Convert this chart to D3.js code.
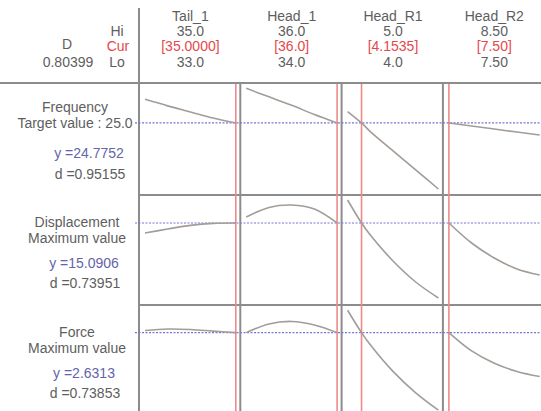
<!DOCTYPE html>
<html>
<head>
<meta charset="utf-8">
<script src="https://cdn.jsdelivr.net/npm/d3@7"></script>
<style>
  html, body { margin: 0; padding: 0; background: #ffffff; }
  svg { display: block; }
  text { font-family: "Liberation Sans", Arial, sans-serif; font-size: 14px; fill: #5e5e5e; }
</style>
</head>
<body>
<svg id="chart" width="541" height="411"></svg>
<script>
// ---- factors (columns) ----
const factorNames = ["Tail_1", "Head_1", "Head_R1", "Head_R2"];
const factorLo = [33.0, 34.0, 4.0, 7.5];
const factorHi = [35.0, 36.0, 5.0, 8.5];
const factorCur = [35.0, 36.0, 4.1535, 7.5];
const hiLabels = ["35.0", "36.0", "5.0", "8.50"];
const curLabels = ["[35.0000]", "[36.0]", "[4.1535]", "[7.50]"];
const loLabels = ["33.0", "34.0", "4.0", "7.50"];

// ---- responses (rows) ----
const responseNames = ["Frequency", "Displacement", "Force"];
const goalLabels = ["Target value : 25.0", "Maximum value", "Maximum value"];
const predictedY = [24.7752, 15.0906, 2.6313];
const yLabels = ["y =24.7752", "y =15.0906", "y =2.6313"];
const dLabels = ["d =0.95155", "d =0.73951", "d =0.73853"];
const compositeD = "0.80399";
const responseDomains = [[19.5, 27.6], [11.14, 16.34], [2.0, 2.82]];

// ---- factor settings at which each response trace is evaluated ----
const tail1X = [33.0, 33.5, 34.0, 34.5, 35.0];
const head1X = [34.0, 34.5, 35.0, 35.5, 36.0];
const headR1X = [4.0, 4.1535, 4.25, 4.5, 4.75, 5.0];
const headR2X = [7.5, 7.75, 8.0, 8.25, 8.5];
const factorX = [tail1X, head1X, headR1X, headR2X];

// Frequency traces
const freqTail1 = [26.58, 26.08, 25.62, 25.15, 24.7752];
const freqHead1 = [27.42, 26.77, 26.12, 25.42, 24.7752];
const freqHeadR1 = [25.65, 24.7752, 24.12, 22.65, 21.19, 19.73];
const freqHeadR2 = [24.7752, 24.54, 24.31, 24.08, 23.85];

// Displacement traces
const dispTail1 = [14.59, 14.79, 14.97, 15.07, 15.0906];
const dispHead1 = [15.39, 15.87, 15.99, 15.79, 15.0906];
const dispHeadR1 = [16.24, 15.0906, 14.49, 13.19, 12.14, 11.34];
const dispHeadR2 = [15.0906, 14.09, 13.34, 12.79, 12.49];

// Force traces
const forceTail1 = [2.647, 2.659, 2.655, 2.643, 2.6313];
const forceHead1 = [2.6313, 2.698, 2.717, 2.69, 2.6313];
const forceHeadR1 = [2.803, 2.6313, 2.538, 2.334, 2.170, 2.037];
const forceHeadR2 = [2.6313, 2.491, 2.397, 2.334, 2.295];

const traces = [
  [freqTail1, freqHead1, freqHeadR1, freqHeadR2],
  [dispTail1, dispHead1, dispHeadR1, dispHeadR2],
  [forceTail1, forceHead1, forceHeadR1, forceHeadR2]
];

// ---- layout ----
const svg = d3.select("#chart");
const gridLeft = 139, headerBottom = 83, chartRight = 544, chartBottom = 418;
const colWidth = 101.3, colPad = 6;
const rowTops = [83, 195, 305];
const rowBottoms = [195, 305, 418];
const rowPad = [3, 3, 3];

const colors = {
  grid: "#8c8c8c",
  trace: "#a39c97",
  cur: "#f08a8a",
  curText: "#e5484a",
  target: "#7a74d2",
  yText: "#6464aa",
  text: "#5e5e5e"
};

const xScales = factorNames.map((_, i) => {
  const left = gridLeft + i * colWidth;
  return d3.scaleLinear().domain([factorLo[i], factorHi[i]]).range([left + colPad, left + colWidth - 4.5]);
});
const yScales = responseNames.map((_, r) =>
  d3.scaleLinear().domain(responseDomains[r]).range([rowBottoms[r] - rowPad[r], rowTops[r] + rowPad[r]])
);

// ---- grid frame ----
const grid = svg.append("g").attr("stroke", colors.grid).attr("stroke-width", 2).attr("fill", "none");
grid.append("line").attr("x1", 0).attr("x2", chartRight).attr("y1", headerBottom).attr("y2", headerBottom);
grid.append("line").attr("x1", gridLeft).attr("x2", gridLeft).attr("y1", 8).attr("y2", chartBottom);
rowTops.slice(1).forEach(y => {
  grid.append("line").attr("x1", gridLeft).attr("x2", chartRight).attr("y1", y).attr("y2", y);
});
factorNames.forEach((_, i) => {
  if (i === 0) return;
  const x = gridLeft + i * colWidth;
  grid.append("line").attr("x1", x).attr("x2", x).attr("y1", headerBottom).attr("y2", chartBottom);
});

// ---- current settings (red verticals) ----
factorNames.forEach((_, i) => {
  const x = xScales[i](factorCur[i]);
  svg.append("line")
    .attr("x1", x).attr("x2", x).attr("y1", headerBottom + 1).attr("y2", chartBottom)
    .attr("stroke", colors.cur).attr("stroke-width", 1.6);
});

// ---- predicted response (blue dotted horizontals) ----
responseNames.forEach((_, r) => {
  const y = yScales[r](predictedY[r]);
  svg.append("line")
    .attr("x1", gridLeft - 4).attr("x2", chartRight).attr("y1", y).attr("y2", y)
    .attr("stroke", colors.target).attr("stroke-width", 1.2)
    .attr("stroke-dasharray", "2,1.5");
});

// ---- response traces ----
const line = d3.line().curve(d3.curveCatmullRom.alpha(0.5));
responseNames.forEach((_, r) => {
  factorNames.forEach((_, i) => {
    const pts = factorX[i].map((x, k) => [xScales[i](x), yScales[r](traces[r][i][k])]);
    svg.append("path")
      .attr("d", line(pts))
      .attr("fill", "none")
      .attr("stroke", colors.trace)
      .attr("stroke-width", 1.6);
  });
});

// ---- header text ----
const header = svg.append("g").attr("text-anchor", "middle");
header.append("text").attr("x", 67).attr("y", 49).text("D");
header.append("text").attr("x", 68).attr("y", 67).text(compositeD);
header.append("text").attr("x", 117).attr("y", 36).text("Hi");
header.append("text").attr("x", 118).attr("y", 51).style("fill", colors.curText).text("Cur");
header.append("text").attr("x", 117).attr("y", 67).text("Lo");

factorNames.forEach((name, i) => {
  const cx = (xScales[i].range()[0] + xScales[i].range()[1]) / 2;
  header.append("text").attr("x", cx).attr("y", 21).text(name);
  header.append("text").attr("x", cx).attr("y", 36).text(hiLabels[i]);
  header.append("text").attr("x", cx).attr("y", 51).style("fill", colors.curText).text(curLabels[i]);
  header.append("text").attr("x", cx).attr("y", 67).text(loLabels[i]);
});

// ---- row labels ----
const titleBase = [112, 227, 337];
responseNames.forEach((name, r) => {
  const g = svg.append("g").attr("text-anchor", "middle");
  const b = titleBase[r];
  g.append("text").attr("x", r === 0 ? 75 : 77).attr("y", b).text(name);
  g.append("text").attr("x", r === 0 ? 75 : 77).attr("y", b + 16).text(goalLabels[r]);
  g.append("text").attr("x", r === 0 ? 89 : 84).attr("y", b + (r === 0 ? 46 : 41)).style("fill", colors.yText).text(yLabels[r]);
  g.append("text").attr("x", r === 0 ? 90 : 85).attr("y", b + (r === 0 ? 67 : 61)).text(dLabels[r]);
});
</script>
</body>
</html>
